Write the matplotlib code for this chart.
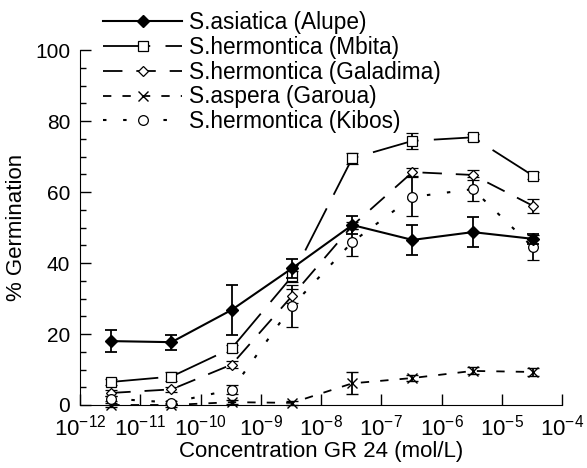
import matplotlib
matplotlib.use('Agg')
import matplotlib.pyplot as plt
import numpy as np

plt.rcParams['font.family'] = ['Liberation Sans', 'DejaVu Sans']
plt.rcParams['mathtext.fontset'] = 'custom'
plt.rcParams['mathtext.rm'] = 'Liberation Sans'
plt.rcParams['mathtext.default'] = 'regular'
plt.rcParams['lines.scale_dashes'] = False

# concentrations (mol/L)
conc = [3.3e-12, 3.3e-11, 3.3e-10, 3.3e-9, 3.3e-8, 3.3e-7, 3.3e-6, 3.3e-5]

alupe = [18.0, 17.7, 26.8, 38.5, 50.7, 46.5, 48.7, 46.8]
alupe_err = [3.2, 2.1, 7.0, 2.7, 2.5, 4.2, 4.2, 1.4]

mbita = [6.5, 8.0, 16.0, 36.2, 69.5, 74.4, 75.4, 64.6]
mbita_err = [0.8, 1.2, 1.0, 1.5, 1.5, 2.2, 0.8, 1.0]

galadima = [3.4, 4.4, 11.4, 30.7, 50.5, 65.6, 64.8, 56.1]
galadima_err = [0.8, 0.8, 1.0, 2.0, 1.0, 1.2, 1.4, 1.9]

garoua = [0.0, 0.0, 0.8, 0.6, 6.1, 7.6, 9.6, 9.3]
garoua_err = [0.5, 0.5, 0.5, 0.5, 3.1, 0.8, 1.0, 1.0]

kibos = [1.8, 0.7, 4.3, 27.9, 45.9, 58.6, 60.8, 44.4]
kibos_err = [0.8, 0.5, 1.3, 6.0, 3.8, 5.5, 3.3, 3.5]

labels = ['S.asiatica (Alupe)', 'S.hermontica (Mbita)', 'S.hermontica (Galadima)',
          'S.aspera (Garoua)', 'S.hermontica (Kibos)']

fig = plt.figure(figsize=(5.87, 4.68), dpi=100)
ax = fig.add_axes([80 / 587, 1 - 405 / 468, 482 / 587, 355 / 468])

series = [
    (alupe, alupe_err, dict(marker='D', ms=6, mfc='black', mec='black', ls='-', lw=1.5), 5),
    (mbita, mbita_err, dict(marker='s', ms=7, mfc='white', mec='black', mew=0.9,
                            lw=1.3, dashes=(34, 11)), 3),
    (galadima, galadima_err, dict(marker='D', ms=5.5, mfc='white', mec='black', mew=0.9,
                                  lw=1.3, dashes=(14, 10)), 3),
    (garoua, garoua_err, dict(marker='x', ms=6.5, mec='black', mew=1.0,
                              lw=1.3, dashes=(6, 8)), 3),
    (kibos, kibos_err, dict(marker='o', ms=7, mfc='white', mec='black', mew=0.9,
                            lw=1.5, dashes=(2.5, 12)), 3),
]

handles = []
for (vals, errs, style, z) in series:
    eb = ax.errorbar(conc, vals, yerr=errs, color='black', ecolor='black',
                     elinewidth=1.3, capsize=4, capthick=1.3, zorder=z, **style)
    for art in [eb.lines[0]] + list(eb.lines[1]) + list(eb.lines[2]):
        art.set_clip_on(False)
    handles.append(eb.lines[0])

ax.set_xscale('log')
ax.set_xlim(1e-12, 1e-4)
ax.set_ylim(0, 100)
ax.set_yticks([0, 20, 40, 60, 80, 100])
ax.set_yticks(np.arange(0, 101, 5), minor=True)
ax.set_xticks([10.0 ** k for k in range(-12, -3)])

ax.spines['top'].set_visible(False)
ax.spines['right'].set_visible(False)
ax.tick_params(which='both', direction='in', width=1)
ax.tick_params(which='major', length=8)
ax.tick_params(which='minor', length=4)
ax.tick_params(axis='x', which='major', labelsize=16, pad=7)
ax.tick_params(axis='y', which='major', labelsize=15, pad=7)

ax.set_xlabel('Concentration GR 24 (mol/L)', fontsize=16, labelpad=0)
ax.set_ylabel('% Germination', fontsize=16, labelpad=6)

fig.legend(handles, labels, loc='upper left', bbox_to_anchor=(103 / 587, 1 - 11 / 468),
           frameon=False, fontsize=16.3, handlelength=3.5, handletextpad=0.3,
           labelspacing=0.08, borderpad=0, borderaxespad=0, numpoints=1)

fig.savefig('out.png', dpi=100)
